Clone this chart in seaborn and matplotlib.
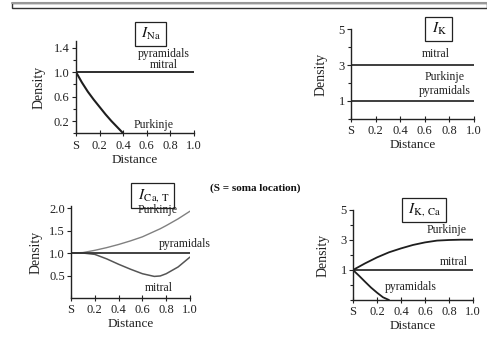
import numpy as np
import pandas as pd
import seaborn as sns
import matplotlib.pyplot as plt
from matplotlib.patches import Rectangle
from matplotlib.ticker import FixedLocator

# distance from soma (S = 0)
x_flat = [0.0, 1.0]

# I_Na
na_flat = [1.0, 1.0]
na_purk_x = [0.0, 0.05, 0.1, 0.15, 0.2, 0.25, 0.3, 0.35, 0.4]
na_purk_y = [1.0, 0.83, 0.68, 0.55, 0.43, 0.31, 0.2, 0.1, 0.0]

# I_K
k_mitral = [3.0, 3.0]
k_purk_pyr = [1.0, 1.0]

# I_Ca,T
cat_x = [0.0, 0.1, 0.2, 0.3, 0.4, 0.5, 0.6, 0.7, 0.75, 0.8, 0.9, 1.0]
cat_purk = [1.0, 1.01, 1.06, 1.12, 1.19, 1.27, 1.36, 1.48, 1.54, 1.61, 1.76, 1.93]
cat_mitral = [1.0, 1.0, 0.97, 0.87, 0.75, 0.64, 0.54, 0.48, 0.49, 0.54, 0.69, 0.91]
cat_pyr = [1.0, 1.0]

# I_K,Ca
kca_purk_x = [0.0, 0.1, 0.2, 0.3, 0.4, 0.5, 0.6, 0.7, 0.8, 0.9, 1.0]
kca_purk_y = [1.0, 1.44, 1.84, 2.18, 2.44, 2.67, 2.84, 2.96, 3.0, 3.02, 3.02]
kca_mitral = [1.0, 1.0]
kca_pyr_x = [0.0, 0.05, 0.1, 0.15, 0.2, 0.25, 0.3]
kca_pyr_y = [1.0, 0.62, 0.22, -0.17, -0.51, -0.82, -1.0]

x_ticks = [0.0, 0.2, 0.4, 0.6, 0.8, 1.0]
x_ticklabels = ["S", "0.2", "0.4", "0.6", "0.8", "1.0"]

sns.set_theme(style="ticks")
plt.rcParams["font.family"] = ["Liberation Serif", "DejaVu Serif"]
plt.rcParams["mathtext.fontset"] = "stix"

W, H = 487, 339
fig = plt.figure(figsize=(W / 100, H / 100), dpi=100)
fig.patch.set_facecolor("white")


def px_axes(left, top, right, bottom):
    return fig.add_axes([left / W, 1 - bottom / H, (right - left) / W, (bottom - top) / H])


def style(ax, ylim, major, minor, title, tx, ty, ylpad=5):
    ax.set_xlim(0, 1.0)
    ax.set_ylim(*ylim)
    ax.set_facecolor("white")
    sns.despine(ax=ax)
    for s in ("left", "bottom"):
        ax.spines[s].set_color("#222")
        ax.spines[s].set_linewidth(1.0)
    ax.set_xticks(x_ticks)
    ax.set_xticklabels(x_ticklabels)
    ax.set_yticks(major)
    ax.yaxis.set_minor_locator(FixedLocator(minor))
    ax.tick_params(axis="both", which="major", labelsize=9, length=3,
                   width=0.8, color="#222", pad=1.5, labelcolor="#222")
    ax.tick_params(axis="y", which="minor", length=2.5, width=0.8, color="#222")
    ax.tick_params(axis="x", direction="inout", length=4, pad=2.5)
    ax.set_xlabel("Distance", fontsize=9.5, labelpad=1.5, color="#222")
    ax.set_ylabel("Density", fontsize=10, labelpad=ylpad, color="#222")
    ax.text(tx, ty, " " + title + " ", transform=ax.transAxes, ha="center",
            va="center", fontsize=11, color="#111",
            bbox=dict(boxstyle="square,pad=0.25", fc="white", ec="#222", lw=0.9))


dark = "#1e1e1e"
gray = "#808080"
tkw = dict(fontsize=8.5, color="#222", ha="center", va="center")

# panel 1: I_Na
ax1 = px_axes(76, 41.4, 194, 133.3)
sns.lineplot(x=x_flat, y=na_flat, ax=ax1, color=dark, lw=1.3)
sns.lineplot(x=na_purk_x, y=na_purk_y, ax=ax1, color=dark, lw=1.5)
style(ax1, (0, 1.5), [0.2, 0.6, 1.0, 1.4], [0.0, 0.4, 0.8, 1.2],
      r"$I_{\mathrm{Na}}$", 0.63, 1.08, ylpad=6)
ax1.text(0.74, 1.3, "pyramidals", **tkw)
ax1.text(0.74, 1.12, "mitral", **tkw)
ax1.text(0.66, 0.14, "Purkinje", **tkw)

# panel 2: I_K
ax2 = px_axes(351, 29, 474, 119)
sns.lineplot(x=x_flat, y=k_mitral, ax=ax2, color=dark, lw=1.2)
sns.lineplot(x=x_flat, y=k_purk_pyr, ax=ax2, color=dark, lw=1.2)
style(ax2, (0, 5), [1, 3, 5], [0, 2, 4], r"$I_{\mathrm{K}}$", 0.71, 1.0, ylpad=8)
ax2.text(0.69, 3.6, "mitral", **tkw)
ax2.text(0.76, 2.33, "Purkinje", **tkw)
ax2.text(0.76, 1.55, "pyramidals", **tkw)

# panel 3: I_Ca,T
ax3 = px_axes(71, 205.8, 190, 298)
sns.lineplot(x=cat_x, y=cat_purk, ax=ax3, color=gray, lw=1.0)
sns.lineplot(x=cat_x, y=cat_mitral, ax=ax3, color="#555", lw=1.1)
sns.lineplot(x=x_flat, y=cat_pyr, ax=ax3, color="#333", lw=1.3)
style(ax3, (0, 2.05), [0.5, 1.0, 1.5, 2.0], [], r"$I_{\mathrm{Ca,\,T}}$",
      0.685, 1.11, ylpad=5)
ax3.yaxis.set_major_formatter(plt.FormatStrFormatter("%.1f"))
ax3.text(0.73, 1.96, "Purkinje", **tkw)
ax3.text(0.96, 1.2, "pyramidals", **tkw)
ax3.text(0.74, 0.22, "mitral", **tkw)

# panel 4: I_K,Ca
ax4 = px_axes(353, 210, 473, 300)
sns.lineplot(x=kca_purk_x, y=kca_purk_y, ax=ax4, color=dark, lw=1.3)
sns.lineplot(x=x_flat, y=kca_mitral, ax=ax4, color=dark, lw=1.2)
sns.lineplot(x=kca_pyr_x, y=kca_pyr_y, ax=ax4, color=dark, lw=1.3)
style(ax4, (-1, 5), [1, 3, 5], [-1, 0, 2, 4], r"$I_{\mathrm{K,\,Ca}}$",
      0.59, 1.0, ylpad=8)
ax4.text(0.78, 3.67, "Purkinje", **tkw)
ax4.text(0.84, 1.55, "mitral", **tkw)
ax4.text(0.48, -0.13, "pyramidals", **tkw)

fig.text(255 / W, 1 - 188 / H, "(S = soma location)", fontsize=8,
         fontweight="bold", ha="center", va="center", color="#111")

# header rule
fig.patches.append(Rectangle((12 / W, 1 - 7.5 / H), (W - 12) / W, 4.5 / H,
                             transform=fig.transFigure, fc="white",
                             ec="#333", lw=1.0))
fig.lines.append(plt.Line2D([12 / W, 1], [1 - 3.2 / H] * 2,
                            transform=fig.transFigure, color="#999", lw=1.5))

fig.savefig("out.png", dpi=100, facecolor="white")
